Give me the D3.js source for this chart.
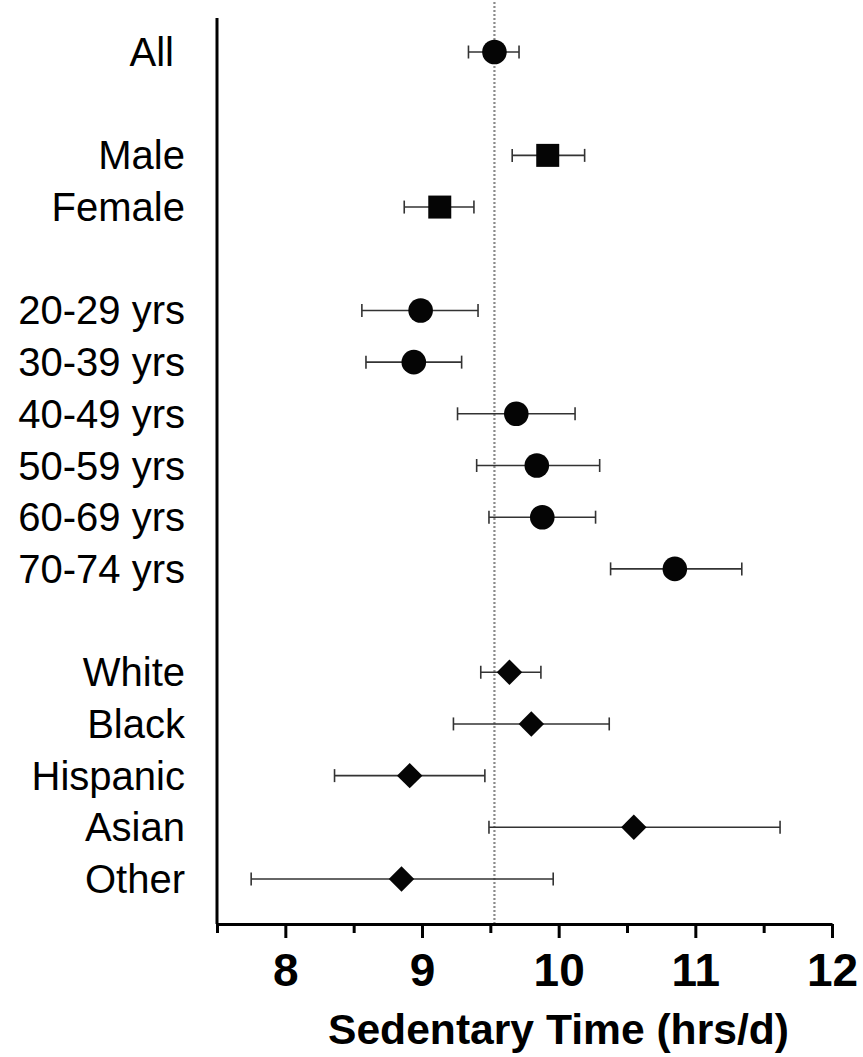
<!DOCTYPE html>
<html>
<head>
<meta charset="utf-8">
<script src="https://cdn.jsdelivr.net/npm/d3@7"></script>
<style>
  body { margin: 0; background: #fff; }
  svg { display: block; font-family: "Liberation Sans", Arial, sans-serif; }
</style>
</head>
<body>
<svg id="chart" width="863" height="1057"></svg>
<script>
// groups shown top to bottom, with a blank slot between the groups
var labels = ['All', 'Male', 'Female', '20-29 yrs', '30-39 yrs', '40-49 yrs', '50-59 yrs', '60-69 yrs', '70-74 yrs',
              'White', 'Black', 'Hispanic', 'Asian', 'Other'];
var slots  = [0, 2, 3, 5, 6, 7, 8, 9, 10, 12, 13, 14, 15, 16];
var means  = [9.53, 9.92, 9.13, 8.99, 8.94, 9.69, 9.84, 9.88, 10.85, 9.64, 9.80, 8.91, 10.55, 8.85];
var lows   = [9.34, 9.66, 8.87, 8.56, 8.59, 9.26, 9.40, 9.49, 10.38, 9.43, 9.23, 8.36, 9.49, 7.75];
var highs  = [9.71, 10.19, 9.38, 9.41, 9.29, 10.12, 10.30, 10.27, 11.34, 9.87, 10.37, 9.46, 11.62, 9.96];
var shapes = ['circle', 'square', 'square', 'circle', 'circle', 'circle', 'circle', 'circle', 'circle',
              'diamond', 'diamond', 'diamond', 'diamond', 'diamond'];
var tickValues = [7.5, 8, 8.5, 9, 9.5, 10, 10.5, 11, 11.5, 12];
var refValue = 9.53;

var data = labels.map(function(d, i) {
    return {label: d, slot: slots[i], mean: means[i], low: lows[i], high: highs[i], shape: shapes[i]};
});

var svg = d3.select('#chart');

var xScale = d3.scaleLinear().domain([7.5, 12]).range([217, 832]);
var yScale = d3.scaleLinear().domain([0, 16]).range([52, 879]);
var axisY = 924;

// dotted reference line at the overall mean
svg.append('line')
    .attr('x1', xScale(refValue)).attr('x2', xScale(refValue))
    .attr('y1', 2).attr('y2', axisY)
    .attr('stroke', '#8a8a8a')
    .attr('stroke-width', 2.2)
    .attr('stroke-dasharray', '2,2');

// left axis line
svg.append('line')
    .attr('x1', xScale(7.5)).attr('x2', xScale(7.5))
    .attr('y1', 18).attr('y2', axisY)
    .attr('stroke', '#000')
    .attr('stroke-width', 3);

// bottom axis
var xAxis = d3.axisBottom(xScale)
    .tickValues(tickValues)
    .tickSizeOuter(0)
    .tickFormat(function(d) { return Number.isInteger(d) ? d : ''; });

var xAxisG = svg.append('g')
    .attr('transform', 'translate(0,' + axisY + ')')
    .call(xAxis);

xAxisG.select('.domain').attr('stroke-width', 3).attr('stroke', '#000');
xAxisG.selectAll('.tick line')
    .attr('stroke', '#000')
    .attr('stroke-width', 3)
    .attr('y2', function(d) { return Number.isInteger(d) ? 14 : 9; });
xAxisG.selectAll('.tick text')
    .attr('y', 62)
    .attr('dy', 0)
    .attr('fill', '#000')
    .style('font-family', '"Liberation Sans", Arial, sans-serif')
    .style('font-size', '46px')
    .style('font-weight', 'bold');

// x axis title
svg.append('text')
    .attr('x', 328)
    .attr('y', 1044)
    .attr('textLength', 461)
    .attr('lengthAdjust', 'spacingAndGlyphs')
    .style('font-size', '43px')
    .style('font-weight', 'bold')
    .text('Sedentary Time (hrs/d)');

// row labels
svg.selectAll('.row-label').data(data)
    .enter()
    .append('text')
    .attr('class', 'row-label')
    .attr('x', function(d) { return d.label === 'All' ? 174 : 185; })
    .attr('y', function(d) { return yScale(d.slot); })
    .attr('dy', '0.35em')
    .attr('text-anchor', 'end')
    .style('font-size', '40px')
    .text(function(d) { return d.label; });

// error bars
var bars = svg.selectAll('.err').data(data)
    .enter()
    .append('g')
    .attr('class', 'err')
    .attr('stroke', '#333')
    .attr('stroke-width', 1.6);

bars.append('line')
    .attr('x1', function(d) { return xScale(d.low); })
    .attr('x2', function(d) { return xScale(d.high); })
    .attr('y1', function(d) { return yScale(d.slot); })
    .attr('y2', function(d) { return yScale(d.slot); });

bars.append('line')
    .attr('x1', function(d) { return xScale(d.low); })
    .attr('x2', function(d) { return xScale(d.low); })
    .attr('y1', function(d) { return yScale(d.slot) - 6.5; })
    .attr('y2', function(d) { return yScale(d.slot) + 6.5; });

bars.append('line')
    .attr('x1', function(d) { return xScale(d.high); })
    .attr('x2', function(d) { return xScale(d.high); })
    .attr('y1', function(d) { return yScale(d.slot) - 6.5; })
    .attr('y2', function(d) { return yScale(d.slot) + 6.5; });

// point markers
var symbolFor = {
    circle: d3.symbol().type(d3.symbolCircle).size(Math.PI * 12.3 * 12.3),
    square: d3.symbol().type(d3.symbolSquare).size(23 * 23),
    diamond: d3.symbol().type(d3.symbolSquare).size(18 * 18)
};

svg.selectAll('.point').data(data)
    .enter()
    .append('path')
    .attr('class', 'point')
    .attr('d', function(d) { return symbolFor[d.shape](); })
    .attr('transform', function(d) {
        return 'translate(' + xScale(d.mean) + ',' + yScale(d.slot) + ')' +
            (d.shape === 'diamond' ? ' rotate(45)' : '');
    })
    .attr('fill', '#050505');
</script>
</body>
</html>
